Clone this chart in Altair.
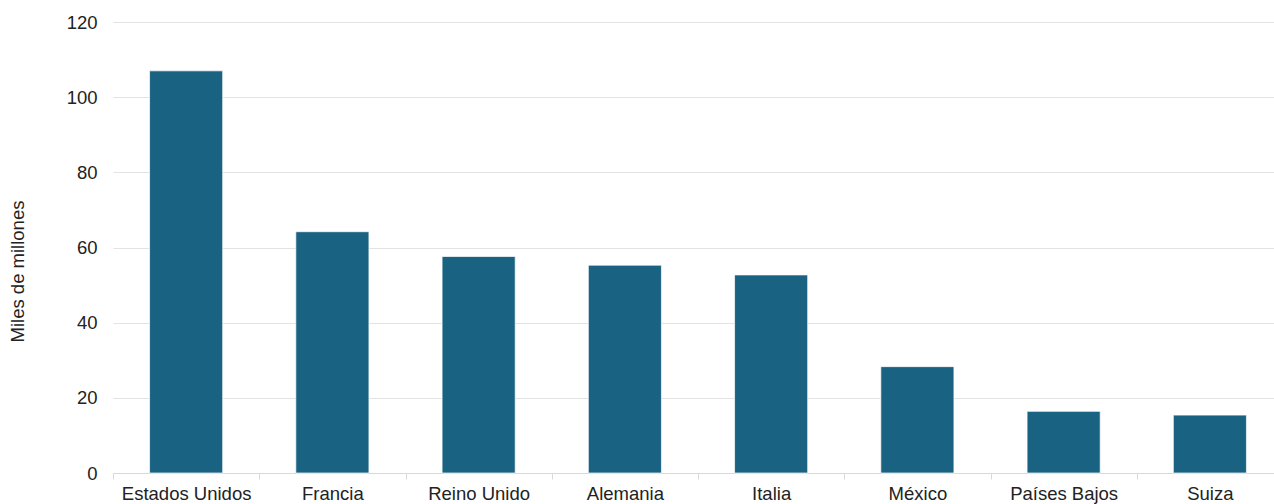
import altair as alt
import pandas as pd

paises = ["Estados Unidos", "Francia", "Reino Unido", "Alemania", "Italia",
          "México", "Países Bajos", "Suiza"]
valores = [107.0, 64.2, 57.6, 55.3, 52.7, 28.3, 16.4, 15.4]

df = pd.DataFrame({"pais": paises, "valor": valores})

FONT = "Liberation Sans"

chart = alt.Chart(df).mark_bar(
    color="#1a6282",
    stroke="#ffffff",
    strokeWidth=0.7,
    width=alt.RelativeBandSize(0.5),
).encode(
    x=alt.X("pais:N", sort=paises, title=None,
            scale=alt.Scale(paddingInner=0, paddingOuter=0),
            axis=alt.Axis(labelAngle=0, tickBand="extent", labelFontSize=18.5,
                          labelFont=FONT, labelColor="#222222",
                          domainColor="#d9d9d9", tickColor="#d9d9d9",
                          tickSize=6, labelPadding=5, grid=False)),
    y=alt.Y("valor:Q", title="Miles de millones",
            scale=alt.Scale(domain=[0, 120]),
            axis=alt.Axis(values=[0, 20, 40, 60, 80, 100, 120], domain=False,
                          ticks=False, labelFontSize=18.5, labelFont=FONT,
                          labelColor="#222222", labelPadding=16,
                          gridColor="#e3e3e3", gridWidth=1,
                          titleFont=FONT, titleFontSize=18.5,
                          titleFontWeight="normal", titleColor="#222222",
                          titleAngle=270, titleX=-96, titleY=249,
                          titleAlign="center", titleBaseline="middle")),
).properties(
    width=1170,
    height=451,
    autosize=alt.AutoSizeParams(type="none"),
    padding={"left": 113, "top": 22, "right": -9, "bottom": 31},
).configure_view(stroke=None)

chart.save("out.html", embed_options={"renderer": "svg", "actions": False})
